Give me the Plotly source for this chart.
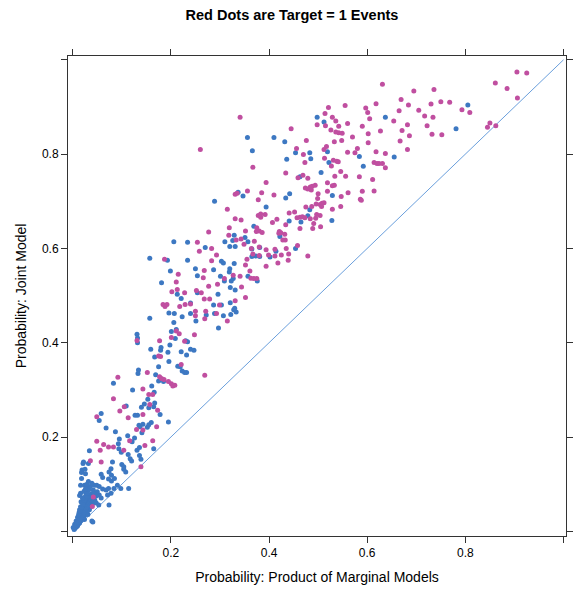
import plotly.graph_objects as go

# Target = 0 events (blue)
blue_x = [0.805, 0.781, 0.637, 0.655,
          0.356, 0.410, 0.432, 0.366, 0.436, 0.498, 0.512, 0.454, 0.483, 0.485, 0.519, 0.522, 0.584, 0.592,
          0.506, 0.463, 0.337, 0.347, 0.442, 0.434, 0.529, 0.394, 0.483, 0.479, 0.465, 0.441, 0.528, 0.369,
          0.329, 0.422, 0.351, 0.326, 0.357, 0.320, 0.331, 0.365, 0.381, 0.414, 0.454, 0.365, 0.373, 0.381, 0.402,
          0.289, 0.206, 0.234, 0.157, 0.193, 0.234, 0.270, 0.310, 0.303, 0.307, 0.287, 0.250, 0.254, 0.199,
          0.181, 0.301, 0.309, 0.213, 0.221, 0.254, 0.296, 0.240, 0.287, 0.303, 0.196, 0.207, 0.240, 0.223,
          0.251, 0.272, 0.289, 0.307, 0.297, 0.157, 0.206, 0.201, 0.211, 0.209, 0.198, 0.230, 0.234, 0.180,
          0.179, 0.159, 0.194, 0.221, 0.232, 0.240, 0.247, 0.167, 0.196, 0.175, 0.214, 0.219, 0.223, 0.228,
          0.232, 0.169, 0.175, 0.185, 0.161, 0.166,
          0.329, 0.320, 0.319, 0.327, 0.323, 0.321, 0.331, 0.321, 0.328, 0.333, 0.330, 0.322, 0.357, 0.376,
          0.131, 0.132, 0.132, 0.083, 0.134, 0.133, 0.122, 0.058, 0.054, 0.068, 0.087, 0.109, 0.127, 0.132,
          0.153, 0.146, 0.140, 0.155, 0.165, 0.167, 0.160, 0.178, 0.135, 0.137, 0.143, 0.152, 0.155, 0.141, 0.195,
          0.034, 0.022, 0.021, 0.032, 0.019, 0.018, 0.081, 0.094, 0.121, 0.126, 0.113, 0.117, 0.120, 0.131,
          0.136, 0.100, 0.104, 0.108, 0.136, 0.139, 0.165, 0.058, 0.061, 0.073, 0.079, 0.085, 0.091, 0.098,
          0.084, 0.024, 0.029, 0.034, 0.044, 0.049, 0.054, 0.061, 0.068, 0.073, 0.114, 0.078, 0.071, 0.016,
          0.014, 0.054, 0.058, 0.034, 0.040, 0.074, 0.048, 0.053, 0.017, 0.021, 0.024, 0.014, 0.027, 0.021,
          0.031, 0.034, 0.011, 0.007, 0.004, 0.001, 0.014, 0.017, 0.024, 0.041, 0.009, 0.013, 0.006,
          0.039, 0.074, 0.025, 0.026, 0.018, 0.016, 0.095, 0.093, 0.112, 0.078, 0.079, 0.104, 0.099,
          0.004, 0.006, 0.008, 0.010, 0.012, 0.014, 0.016, 0.018, 0.020, 0.022, 0.024, 0.026, 0.028, 0.030,
          0.032, 0.034, 0.036, 0.038, 0.040, 0.012, 0.015, 0.018, 0.020, 0.022, 0.025, 0.028, 0.030, 0.010,
          0.013, 0.016, 0.019, 0.023, 0.027, 0.031, 0.035, 0.038, 0.042, 0.045, 0.048, 0.050, 0.008, 0.011,
          0.014, 0.017, 0.021, 0.024, 0.027, 0.033, 0.037, 0.043, 0.026, 0.029, 0.032, 0.016, 0.019, 0.006,
          0.009, 0.003,
          0.005, 0.007, 0.009, 0.011, 0.013, 0.015, 0.017, 0.019, 0.021, 0.023, 0.025, 0.027, 0.029, 0.031,
          0.033, 0.035, 0.037, 0.039, 0.041, 0.043, 0.012, 0.015, 0.018, 0.021, 0.024, 0.027, 0.030, 0.033,
          0.036, 0.039, 0.020, 0.023, 0.026, 0.029, 0.032]
blue_y = [0.904, 0.854, 0.878, 0.794,
          0.835, 0.835, 0.826, 0.807, 0.789, 0.878, 0.868, 0.803, 0.803, 0.790, 0.805, 0.782, 0.795, 0.774,
          0.761, 0.752, 0.719, 0.711, 0.716, 0.707, 0.712, 0.688, 0.682, 0.669, 0.656, 0.658, 0.659, 0.647,
          0.628, 0.625, 0.623, 0.617, 0.614, 0.604, 0.604, 0.599, 0.602, 0.594, 0.600, 0.583, 0.584, 0.583, 0.582,
          0.700, 0.614, 0.613, 0.579, 0.575, 0.575, 0.602, 0.614, 0.573, 0.569, 0.555, 0.557, 0.542, 0.552,
          0.527, 0.541, 0.531, 0.503, 0.494, 0.506, 0.503, 0.484, 0.480, 0.480, 0.463, 0.462, 0.462, 0.455,
          0.446, 0.459, 0.462, 0.457, 0.431, 0.452, 0.443, 0.424, 0.428, 0.409, 0.395, 0.404, 0.402, 0.390,
          0.384, 0.386, 0.380, 0.381, 0.374, 0.386, 0.384, 0.370, 0.360, 0.349, 0.350, 0.349, 0.340, 0.337,
          0.337, 0.332, 0.319, 0.318, 0.308, 0.295,
          0.568, 0.557, 0.550, 0.536, 0.531, 0.517, 0.512, 0.485, 0.470, 0.465, 0.473, 0.460, 0.541, 0.531,
          0.418, 0.410, 0.400, 0.314, 0.342, 0.335, 0.300, 0.250, 0.235, 0.219, 0.211, 0.266, 0.246, 0.246,
          0.280, 0.270, 0.263, 0.262, 0.264, 0.272, 0.231, 0.248, 0.225, 0.222, 0.227, 0.221, 0.226, 0.209, 0.232,
          0.171, 0.147, 0.144, 0.144, 0.130, 0.125, 0.147, 0.175, 0.190, 0.198, 0.163, 0.154, 0.149, 0.172,
          0.178, 0.142, 0.132, 0.126, 0.161, 0.153, 0.175, 0.121, 0.114, 0.111, 0.107, 0.112, 0.098, 0.091,
          0.091, 0.098, 0.095, 0.094, 0.098, 0.098, 0.095, 0.090, 0.088, 0.091, 0.091, 0.081, 0.077, 0.081,
          0.076, 0.077, 0.071, 0.074, 0.067, 0.056, 0.060, 0.056, 0.063, 0.056, 0.050, 0.046, 0.043, 0.036,
          0.036, 0.046, 0.029, 0.022, 0.015, 0.008, 0.022, 0.029, 0.025, 0.020, 0.015, 0.018, 0.011,
          0.022, 0.126, 0.132, 0.122, 0.112, 0.098, 0.196, 0.186, 0.203, 0.133, 0.119, 0.137, 0.168,
          0.006, 0.008, 0.010, 0.012, 0.016, 0.018, 0.022, 0.024, 0.028, 0.030, 0.034, 0.036, 0.040, 0.043,
          0.046, 0.050, 0.052, 0.056, 0.058, 0.024, 0.032, 0.040, 0.048, 0.055, 0.062, 0.068, 0.075, 0.030,
          0.040, 0.052, 0.062, 0.072, 0.080, 0.088, 0.070, 0.080, 0.088, 0.066, 0.075, 0.084, 0.018, 0.020,
          0.026, 0.030, 0.038, 0.044, 0.050, 0.058, 0.064, 0.072, 0.058, 0.060, 0.066, 0.038, 0.046, 0.012,
          0.014, 0.004,
          0.010, 0.013, 0.017, 0.020, 0.023, 0.027, 0.030, 0.034, 0.037, 0.041, 0.045, 0.048, 0.052, 0.056,
          0.060, 0.063, 0.067, 0.071, 0.075, 0.079, 0.035, 0.043, 0.051, 0.058, 0.066, 0.073, 0.081, 0.089,
          0.095, 0.102, 0.070, 0.085, 0.090, 0.100, 0.106]

# Target = 1 events (red/magenta)
red_x = [0.905, 0.925, 0.861, 0.885, 0.906, 0.695, 0.736, 0.669, 0.684, 0.665, 0.730, 0.750, 0.768, 0.705,
         0.717, 0.734, 0.793, 0.809, 0.671, 0.682, 0.722, 0.667, 0.686, 0.732, 0.752, 0.682, 0.850, 0.845, 0.862,
         0.654, 0.637, 0.637,
         0.631, 0.618, 0.597, 0.601, 0.605, 0.555, 0.521, 0.514, 0.529, 0.498, 0.515, 0.536, 0.542, 0.560,
         0.590, 0.526, 0.536, 0.542, 0.549, 0.602, 0.570, 0.627, 0.445, 0.476, 0.533, 0.548, 0.602, 0.456,
         0.512, 0.517, 0.470, 0.560, 0.580, 0.575, 0.618, 0.473, 0.513, 0.531, 0.538, 0.541, 0.527, 0.614,
         0.620, 0.624, 0.631, 0.367, 0.341, 0.434, 0.459, 0.469, 0.479, 0.546, 0.534, 0.556, 0.584, 0.611,
         0.394, 0.519, 0.529, 0.533, 0.474, 0.479, 0.484, 0.488, 0.494, 0.486, 0.519, 0.561, 0.590, 0.614,
         0.331, 0.335, 0.356, 0.385, 0.410, 0.500, 0.547, 0.378, 0.499, 0.586, 0.588, 0.496, 0.504, 0.508,
         0.512, 0.475, 0.487, 0.507, 0.546, 0.529, 0.315, 0.441, 0.452, 0.378, 0.383, 0.383, 0.392, 0.497,
         0.504, 0.457, 0.463, 0.468, 0.473, 0.484, 0.495, 0.331, 0.343, 0.407, 0.416, 0.434, 0.491, 0.319,
         0.375, 0.380, 0.386, 0.374, 0.352, 0.421, 0.424, 0.432, 0.420, 0.463, 0.489, 0.505, 0.318, 0.333,
         0.343, 0.370, 0.428, 0.433, 0.349, 0.364, 0.380, 0.394, 0.412, 0.435, 0.458, 0.367, 0.380, 0.399,
         0.412, 0.425, 0.440, 0.479,
         0.260,
         0.277, 0.254, 0.258, 0.283, 0.293, 0.187, 0.283, 0.268, 0.266, 0.215, 0.211, 0.277, 0.295, 0.309,
         0.202, 0.213, 0.228, 0.252, 0.262, 0.184, 0.188, 0.192, 0.218, 0.229, 0.240, 0.268, 0.279, 0.250,
         0.250, 0.271, 0.293, 0.299, 0.269, 0.315, 0.211, 0.217, 0.228, 0.248, 0.177, 0.201, 0.175, 0.179,
         0.221, 0.152, 0.177, 0.181, 0.186, 0.195, 0.201, 0.204, 0.208, 0.269, 0.143, 0.155, 0.163,
         0.352, 0.331, 0.344, 0.327, 0.341, 0.363, 0.369, 0.375, 0.355, 0.361, 0.352, 0.394, 0.418, 0.439,
         0.131, 0.092, 0.083, 0.049, 0.105, 0.096, 0.113, 0.157, 0.143, 0.173, 0.171, 0.143, 0.130,
         0.049, 0.063, 0.056, 0.073, 0.036, 0.058, 0.083, 0.104, 0.116, 0.147, 0.163, 0.139, 0.042, 0.040]
red_y = [0.974, 0.972, 0.951, 0.939, 0.919, 0.934, 0.937, 0.916, 0.904, 0.892, 0.906, 0.911, 0.910, 0.893,
         0.881, 0.878, 0.894, 0.888, 0.850, 0.862, 0.860, 0.828, 0.839, 0.842, 0.841, 0.810, 0.866, 0.857, 0.860,
         0.870, 0.801, 0.771,
         0.948, 0.907, 0.898, 0.888, 0.875, 0.903, 0.899, 0.886, 0.878, 0.862, 0.860, 0.870, 0.859, 0.865,
         0.859, 0.851, 0.847, 0.845, 0.844, 0.843, 0.836, 0.849, 0.854, 0.829, 0.826, 0.829, 0.824, 0.812,
         0.810, 0.816, 0.799, 0.804, 0.812, 0.803, 0.805, 0.782, 0.791, 0.787, 0.785, 0.784, 0.775, 0.782,
         0.780, 0.780, 0.780, 0.772, 0.878, 0.760, 0.750, 0.755, 0.749, 0.763, 0.753, 0.753, 0.752, 0.746,
         0.740, 0.739, 0.733, 0.734, 0.728, 0.726, 0.730, 0.732, 0.734, 0.724, 0.721, 0.718, 0.721, 0.722,
         0.715, 0.717, 0.722, 0.718, 0.713, 0.716, 0.710, 0.703, 0.706, 0.704, 0.702, 0.694, 0.693, 0.696,
         0.697, 0.688, 0.689, 0.689, 0.689, 0.683, 0.683, 0.675, 0.677, 0.670, 0.673, 0.666, 0.672, 0.672,
         0.670, 0.665, 0.666, 0.667, 0.665, 0.663, 0.664, 0.663, 0.660, 0.655, 0.662, 0.650, 0.653, 0.644,
         0.644, 0.637, 0.634, 0.636, 0.637, 0.636, 0.633, 0.630, 0.632, 0.642, 0.642, 0.646, 0.628, 0.618,
         0.620, 0.615, 0.618, 0.618, 0.609, 0.600, 0.603, 0.597, 0.598, 0.600, 0.606, 0.588, 0.585, 0.586,
         0.584, 0.586, 0.588, 0.584,
         0.810,
         0.635, 0.613, 0.594, 0.600, 0.586, 0.577, 0.574, 0.553, 0.538, 0.545, 0.529, 0.520, 0.524, 0.536,
         0.508, 0.513, 0.506, 0.511, 0.506, 0.481, 0.477, 0.481, 0.477, 0.481, 0.482, 0.493, 0.493, 0.467,
         0.457, 0.467, 0.462, 0.480, 0.451, 0.446, 0.425, 0.419, 0.403, 0.417, 0.404, 0.411, 0.372, 0.371,
         0.354, 0.337, 0.328, 0.324, 0.322, 0.318, 0.313, 0.308, 0.310, 0.331, 0.302, 0.290, 0.290,
         0.496, 0.489, 0.518, 0.543, 0.541, 0.537, 0.536, 0.536, 0.577, 0.552, 0.565, 0.562, 0.569, 0.575,
         0.405, 0.327, 0.281, 0.243, 0.264, 0.255, 0.241, 0.269, 0.248, 0.257, 0.222, 0.215, 0.216,
         0.191, 0.184, 0.172, 0.179, 0.150, 0.147, 0.179, 0.172, 0.192, 0.182, 0.192, 0.137, 0.073, 0.053]

ref_line = [0, 1]
tick_vals = [0, 0.2, 0.4, 0.6, 0.8, 1.0]
tick_text = ["", "0.2", "0.4", "0.6", "0.8", ""]

FONT = "Liberation Sans, Arial, Helvetica, sans-serif"
BLUE = "#3d78c2"
MAGENTA = "#c04fa0"
LINE = "#6a9fdc"
FRAME = "#333333"

fig = go.Figure()
fig.add_trace(go.Scatter(x=ref_line, y=ref_line, mode="lines",
                         line=dict(color=LINE, width=1), hoverinfo="skip", showlegend=False))
fig.add_trace(go.Scatter(x=blue_x, y=blue_y, mode="markers", name="Target = 0",
                         marker=dict(color=BLUE, size=5, line=dict(width=0)), showlegend=False))
fig.add_trace(go.Scatter(x=red_x, y=red_y, mode="markers", name="Target = 1",
                         marker=dict(color=MAGENTA, size=5, line=dict(width=0)), showlegend=False))

axis_common = dict(
    tickvals=tick_vals, ticktext=tick_text, ticks="outside", ticklen=6, tickwidth=1,
    tickcolor=FRAME, showline=True, linecolor=FRAME, linewidth=1, mirror="allticks",
    showgrid=False, zeroline=False, tickfont=dict(family=FONT, size=12, color="#000000"),
)

fig.update_layout(
    width=584, height=593,
    margin=dict(l=68, r=11, t=56, b=51),
    paper_bgcolor="white", plot_bgcolor="white",
    font=dict(family=FONT, color="#000000"),
    title=dict(text="Red Dots are Target = 1 Events", x=0.5, xref="container", xanchor="center",
               y=0.975, yref="container", yanchor="middle",
               font=dict(family=FONT, size=14.5, color="#000000", weight="bold")),
    xaxis=dict(range=[-0.0096, 1.005],
               title=dict(text="Probability: Product of Marginal Models",
                          font=dict(family=FONT, size=14, color="#000000"), standoff=12),
               **axis_common),
    yaxis=dict(range=[-0.0098, 1.008],
               title=dict(text="Probability: Joint Model",
                          font=dict(family=FONT, size=14, color="#000000"), standoff=12),
               **axis_common),
)

fig.write_html("out.html")
